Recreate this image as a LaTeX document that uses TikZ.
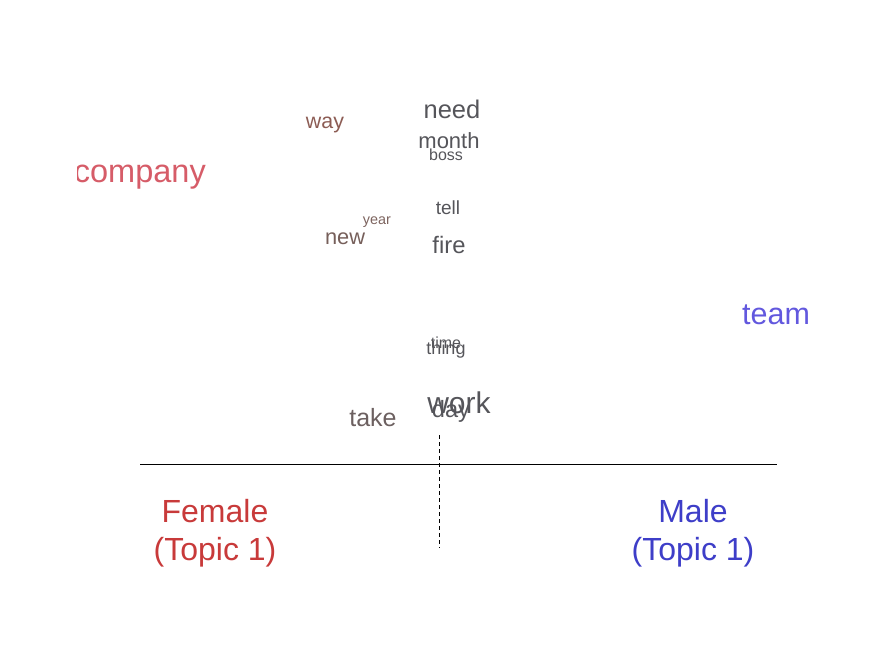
\documentclass[tikz,border=0pt]{standalone}
\usepackage{fontspec}
\setmainfont{Liberation Sans}
\definecolor{cCompany}{RGB}{214,92,104}
\definecolor{cTeam}{RGB}{98,88,222}
\definecolor{cWay}{RGB}{140,92,84}
\definecolor{cNew}{RGB}{118,95,90}
\definecolor{cTake}{RGB}{108,96,96}
\definecolor{cGray}{RGB}{85,85,90}
\definecolor{cYear}{RGB}{125,100,95}
\definecolor{cFemale}{RGB}{200,58,58}
\definecolor{cMale}{RGB}{62,62,200}
\tikzset{
  wd/.style 2 args={anchor=base, inner sep=0pt, text=#2, font=\fontsize{#1}{#1}\selectfont},
  lbl/.style={align=center, inner sep=0pt, anchor=base, font=\fontsize{32}{38}\selectfont},
}
\begin{document}
\begin{tikzpicture}[x=1pt,y=-1pt]
\useasboundingbox (0,0) rectangle (880,665);
\begin{scope}
\clip (77,60) rectangle (830,440);
\node[wd={25.5}{cGray}] (need) at (452,118) {need};
\node[wd={22}{cGray}] (month) at (449,148) {month};
\node[wd={16}{cGray}] (boss) at (446,160) {boss};
\node[wd={21.4}{cWay}] (way) at (325,128) {way};
\node[wd={32.5}{cCompany}, anchor=base east] (company) at (206,182) {company};
\node[wd={19}{cGray}] (tell) at (448,214) {tell};
\node[wd={14.4}{cYear}] (year) at (377,224) {year};
\node[wd={21.8}{cNew}] (new) at (345,244) {new};
\node[wd={23.8}{cGray}] (fire) at (449,253) {fire};
\node[wd={30.5}{cTeam}] (team) at (776,324) {team};
\node[wd={16}{cGray}] (time) at (446,348) {time};
\node[wd={18}{cGray}] (thing) at (446,354) {thing};
\node[wd={30}{cGray}] (work) at (459,413) {work};
\node[wd={23.6}{cGray}] (day) at (451,417) {day};
\node[wd={25}{cTake}] (take) at (373,426) {take};
\end{scope}
\coordinate (hl) at (140,464);
\coordinate (hr) at (777,464);
\coordinate (vt) at (439,435);
\coordinate (vb) at (439,548);
\draw[line width=0.9pt] (hl) -- (hr);
\draw[dashed, dash pattern=on 4pt off 3pt, line width=0.8pt] (vt) -- (vb);
\node[lbl, text=cFemale] (female) at (215,560) {Female\\(Topic 1)};
\node[lbl, text=cMale] (male) at (693,560) {Male\\(Topic 1)};
\end{tikzpicture}
\end{document}
